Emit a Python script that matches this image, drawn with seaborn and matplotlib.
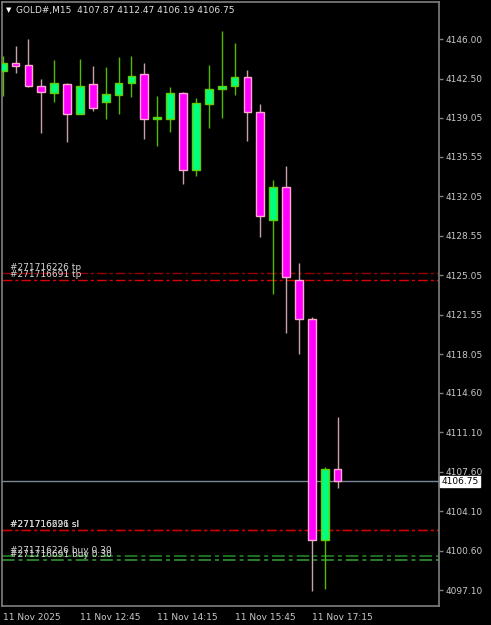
import matplotlib
matplotlib.use("Agg")
import matplotlib.pyplot as plt
import seaborn as sns
import pandas as pd

# M15 bars, 11 Nov 2025
times = ["11:15", "11:30", "11:45", "12:00", "12:15", "12:30", "12:45", "13:00", "13:15",
         "13:30", "13:45", "14:00", "14:15", "14:30", "14:45", "15:00", "15:15", "15:30",
         "15:45", "16:00", "16:15", "16:30", "16:45", "17:00", "17:15", "17:30", "17:45"]
opens = [4143.22, 4143.87, 4143.70, 4141.83, 4141.21, 4142.06, 4139.38, 4142.06, 4140.41,
         4141.09, 4142.10, 4142.92, 4138.91, 4138.96, 4141.21, 4134.41, 4140.29, 4141.57,
         4141.83, 4142.63, 4139.55, 4129.95, 4132.88, 4124.63, 4121.18, 4101.55, 4107.87]
highs = [4144.52, 4145.43, 4146.05, 4142.51, 4144.14, 4142.10, 4144.23, 4143.63, 4143.54,
         4144.43, 4144.52, 4143.87, 4140.97, 4141.74, 4141.33, 4140.77, 4143.72, 4146.71,
         4145.67, 4143.28, 4140.26, 4133.53, 4134.77, 4126.14, 4121.35, 4108.06, 4112.47]
lows = [4141.00, 4143.04, 4141.74, 4137.67, 4140.47, 4136.87, 4139.35, 4139.67, 4138.96,
        4139.35, 4140.91, 4137.16, 4136.57, 4137.81, 4133.17, 4133.82, 4138.16, 4139.05,
        4141.09, 4136.96, 4128.47, 4123.42, 4119.94, 4118.07, 4097.03, 4097.18, 4106.19]
closes = [4143.87, 4143.66, 4141.83, 4141.33, 4142.10, 4139.38, 4141.86, 4139.94, 4141.12,
          4142.13, 4142.72, 4138.91, 4139.08, 4141.27, 4134.41, 4140.33, 4141.57, 4141.86,
          4142.63, 4139.53, 4130.27, 4132.88, 4124.93, 4121.16, 4101.55, 4107.87, 4106.75]

# order lines
tp_levels = [4125.22, 4124.63]
tp_labels = ["#271716226 tp", "#271716691 tp"]
sl_levels = [4102.41, 4102.41]
sl_labels = ["#271716226 sl", "#271716691 sl"]
buy_levels = [4100.13, 4099.75]
buy_labels = ["#271716226 buy 0.30", "#271716691 buy 0.30"]
bid = 4106.75

price_ticks = [4146.00, 4142.50, 4139.05, 4135.55, 4132.05, 4128.55, 4125.05, 4121.55,
               4118.05, 4114.60, 4111.10, 4107.60, 4104.10, 4100.60, 4097.10]
time_tick_idx = [0, 6, 12, 18, 24]
time_tick_labels = ["11 Nov 2025", "11 Nov 12:45", "11 Nov 14:15", "11 Nov 15:45", "11 Nov 17:15"]

df = pd.DataFrame({"time": times, "open": opens, "high": highs, "low": lows, "close": closes})
df["x"] = range(len(df))
df["bull"] = df["close"] >= df["open"]

sns.set_theme(style="dark", rc={"axes.facecolor": "black", "figure.facecolor": "black",
                                "savefig.facecolor": "black"})
plt.rcParams["font.family"] = ["DejaVu Sans"]

txt = "#C8C8C8"
frame = "#808080"
fs = 6.5

fig = plt.figure(figsize=(4.91, 6.25), dpi=100)
ax = fig.add_axes([2 / 491, 19 / 625, 437 / 491, 604 / 625])

dash = (0, (7, 2.2, 2.2, 2.2))
for lv, c in zip(tp_levels, ["#990000", "#DD0000"]):
    ax.axhline(lv, color=c, lw=1, linestyle=dash, zorder=1)
for lv in sl_levels:
    ax.axhline(lv, color="#CC0000", lw=1, linestyle=dash, zorder=1)
for lv, c in zip(buy_levels, ["#1F7A1F", "#2A8A2A"]):
    ax.axhline(lv, color=c, lw=1.3, linestyle=dash, zorder=1)
ax.axhline(bid, color="#7A8794", lw=1, zorder=1)

for group, lbls in [(tp_levels, tp_labels), (sl_levels, sl_labels), (buy_levels, buy_labels)]:
    for lv, lb in zip(group, lbls):
        ax.text(0.6, lv + 0.12, lb, color="#D8D8D8", fontsize=fs, va="bottom", ha="left", zorder=2)

bulls = df[df["bull"]]
bears = df[~df["bull"]]
ax.vlines(bulls["x"], bulls["low"], bulls["high"], color="#55BB00", lw=1, zorder=2)
ax.vlines(bears["x"], bears["low"], bears["high"], color="#C8A0A8", lw=1, zorder=2)
ax.bar(bulls["x"], bulls["close"] - bulls["open"], bottom=bulls["open"], width=0.6,
       color="#00FF7F", edgecolor="#66CC00", linewidth=1, zorder=3)
ax.bar(bears["x"], bears["open"] - bears["close"], bottom=bears["close"], width=0.6,
       color="#FF00FF", edgecolor="#FFA8D0", linewidth=1, zorder=3)

ax.set_xlim(-0.05, 33.87)
ax.set_ylim(4095.69, 4149.31)

ax.yaxis.tick_right()
ax.set_yticks(price_ticks)
ax.set_yticklabels([f"{p:.2f}" for p in price_ticks])
ax.set_xticks(time_tick_idx)
ax.set_xticklabels(time_tick_labels, ha="left")
ax.tick_params(axis="both", colors=frame, labelcolor=txt, labelsize=fs, direction="out",
               length=3, width=1)
ax.tick_params(axis="y", pad=2)
ax.tick_params(axis="x", pad=2, length=3)
ax.grid(False)
for s in ax.spines.values():
    s.set_visible(True)
    s.set_color(frame)
    s.set_linewidth(1.2)

ax.text(1.005, bid, f"{bid:.2f}", transform=ax.get_yaxis_transform(), color="black",
        fontsize=fs, va="center", ha="left", zorder=5,
        bbox=dict(boxstyle="square,pad=0.15", fc="white", ec="white"))

fig.text(6 / 491, 1 - 10 / 625, "\u25BC", color="white", fontsize=5, va="center", ha="left")
fig.text(16 / 491, 1 - 10 / 625,
         f"GOLD#,M15  {opens[-1]:.2f} {highs[-1]:.2f} {lows[-1]:.2f} {closes[-1]:.2f}",
         color="#E0E0E0", fontsize=fs, va="center", ha="left")

fig.savefig("out.png", dpi=100)
